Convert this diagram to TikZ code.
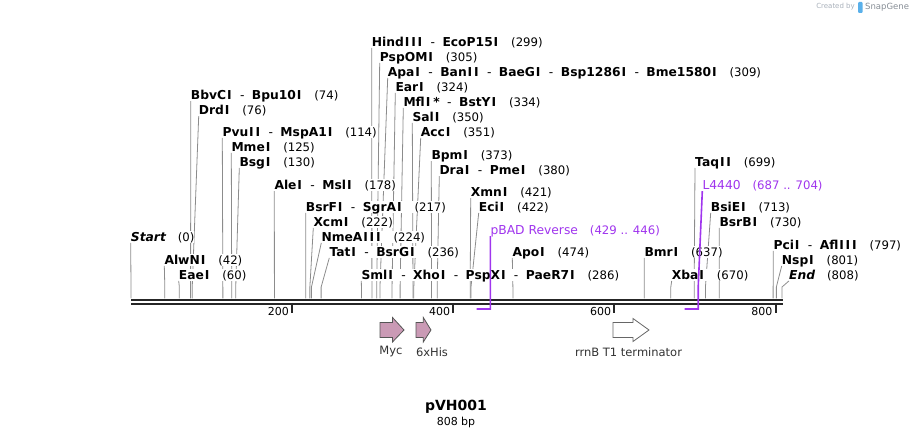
\documentclass[tikz,border=0pt]{standalone}
\usepackage{fontspec}
\setmainfont{DejaVu Sans}[ItalicFont={DejaVu Sans Oblique},BoldItalicFont={DejaVu Sans Bold Oblique}]
\usepackage{tikz}
\usetikzlibrary{calc}
\definecolor{mapInk}{HTML}{262626}
\definecolor{mapLine}{HTML}{8C8C8C}
\definecolor{mapPrimer}{HTML}{A035EE}
\definecolor{mapMyc}{HTML}{CA9AB5}
\definecolor{mapEdge}{HTML}{555555}
\definecolor{mapMuted}{HTML}{A8B0BA}
\definecolor{mapLogo}{HTML}{5AB0EA}
\pgfdeclarelayer{background}
\pgfsetlayers{background,main}
% a wider capital I, as in the map's typeface
\XeTeXinterchartokenstate=1
\newXeTeXintercharclass\enzIclass
\XeTeXcharclass`I=\enzIclass
\XeTeXinterchartoks 0 \enzIclass = {\kern0.9pt}
\XeTeXinterchartoks \enzIclass 0 = {\kern0.9pt}
\XeTeXinterchartoks \enzIclass \enzIclass = {\kern1.8pt}
\XeTeXinterchartoks \enzIclass 4095 = {\kern0.9pt}
\newcommand{\cutpos}[1]{\hspace{12pt}{\mdseries\fontsize{11.7}{13}\selectfont(#1)}}
\newcommand{\cutsep}{\hspace{7.5pt}{\mdseries-}\hspace{7.5pt}}
\tikzset{
  enz/.style={anchor=west, inner xsep=0pt, inner ysep=0pt, text height=10.5pt, text depth=1.5pt,
    fill=white, font=\fontsize{12.3}{14}\selectfont\bfseries, text=black},
  primlab/.style={enz, font=\fontsize{12.3}{14}\selectfont, text=mapPrimer},
  cutline/.style={draw=mapLine, line width=0.8pt},
  primline/.style={draw=mapPrimer, line width=1.6pt},
  barline/.style={draw=mapInk, line width=2.6pt},
  feat/.style={draw=mapEdge, line width=0.8pt, line join=miter},
  featlab/.style={font=\fontsize{11.5}{13}\selectfont, text=black!80},
}

\begin{document}
\begin{tikzpicture}[x=1pt,y=-1pt]
  \useasboundingbox (0,0) rectangle (914,438);
  % sites on the sequence
  \foreach \b in {0,42,60,74,76,114,125,130,178,217,222,224,236,286,299,305,309,324,334,350,351,373,380,421,422,474,637,670,699,713,730,797,801,808}
    \coordinate (s\b) at ({131+\b*0.8057},298.5);
  \foreach \b in {429,446,687,704}
    \coordinate (p\b) at ({131+\b*0.8057},309);

  % sequence line and scale
  \draw[barline] (131,300) -- (783,300);
  \draw[barline] (131,304) -- (783,304);
  \foreach \t in {200,400,600,800} {
    \draw[mapInk, line width=2pt] ({131+\t*0.8057},303) -- ++(0,10.5);
    \node[anchor=east, inner sep=0pt, font=\fontsize{11}{13}\selectfont] (tick\t) at ({131+\t*0.8057-3},311.5) {\t};
  }

  % enzyme labels
  \node[enz] (hind) at (371.7,41.7) {HindIII\cutsep EcoP15I\cutpos{299}};
  \node[enz] (pspom) at (379.7,56.7) {PspOMI\cutpos{305}};
  \node[enz] (apa) at (387.7,71.7) {ApaI\cutsep BanII\cutsep BaeGI\cutsep Bsp1286I\cutsep Bme1580I\cutpos{309}};
  \node[enz] (ear) at (395.3,86.7) {EarI\cutpos{324}};
  \node[enz] (mfl) at (403.3,101.7) {MflI\,*\cutsep BstYI\cutpos{334}};
  \node[enz] (sal) at (412.3,116.7) {SalI\cutpos{350}};
  \node[enz] (acc) at (420.7,131.7) {AccI\cutpos{351}};
  \node[enz] (bpm) at (431.3,155) {BpmI\cutpos{373}};
  \node[enz] (dra) at (439.3,170) {DraI\cutsep PmeI\cutpos{380}};
  \node[enz] (bbv) at (190.7,95) {BbvCI\cutsep Bpu10I\cutpos{74}};
  \node[enz] (drd) at (198.7,110) {DrdI\cutpos{76}};
  \node[enz] (pvu) at (222.3,131.7) {PvuII\cutsep MspA1I\cutpos{114}};
  \node[enz] (mme) at (231.3,146.7) {MmeI\cutpos{125}};
  \node[enz] (bsg) at (239.3,161.7) {BsgI\cutpos{130}};
  \node[enz] (ale) at (274.3,185) {AleI\cutsep MslI\cutpos{178}};
  \node[enz] (bsrf) at (305.7,206.7) {BsrFI\cutsep SgrAI\cutpos{217}};
  \node[enz] (xcm) at (313.3,221.7) {XcmI\cutpos{222}};
  \node[enz] (nme) at (321.3,236.7) {NmeAIII\cutpos{224}};
  \node[enz] (tat) at (329.3,251.7) {TatI\cutsep BsrGI\cutpos{236}};
  \node[enz] (sml) at (361.3,274.7) {SmlI\cutsep XhoI\cutsep PspXI\cutsep PaeR7I\cutpos{286}};
  \node[enz] (start) at (130.7,236.7) {{\itshape Start}\cutpos{0}};
  \node[enz] (alw) at (164.3,259.7) {AlwNI\cutpos{42}};
  \node[enz] (eae) at (178.7,274.7) {EaeI\cutpos{60}};
  \node[enz] (xmn) at (470.7,192) {XmnI\cutpos{421}};
  \node[enz] (eci) at (478.7,206.7) {EciI\cutpos{422}};
  \node[enz] (apo) at (512.3,251.7) {ApoI\cutpos{474}};
  \node[enz] (bmr) at (644.3,251.7) {BmrI\cutpos{637}};
  \node[enz] (xba) at (671.7,274.7) {XbaI\cutpos{670}};
  \node[enz] (taq) at (695,161.7) {TaqII\cutpos{699}};
  \node[enz] (bsie) at (710.7,206.7) {BsiEI\cutpos{713}};
  \node[enz] (bsrb) at (719.3,221.7) {BsrBI\cutpos{730}};
  \node[enz] (pci) at (773.3,244.7) {PciI\cutsep AflIII\cutpos{797}};
  \node[enz] (nsp) at (781.7,259.7) {NspI\cutpos{801}};
  \node[enz] (send) at (789,274.7) {{\itshape End}\cutpos{808}};

  \begin{pgfonlayer}{background}
    \foreach \l/\b in {start/0,alw/42,eae/60,bbv/74,drd/76,pvu/114,mme/125,bsg/130,ale/178,
        bsrf/217,xcm/222,nme/224,tat/236,sml/286,hind/299,pspom/305,apa/309,ear/324,mfl/334,
        sal/350,acc/351,bpm/373,dra/380,xmn/421,eci/422,apo/474,bmr/637,xba/670,taq/699,
        bsie/713,bsrb/730,pci/797,nsp/801,send/808}
      \draw[cutline] (\l.south west) -- ([yshift=11.5pt]s\b) -- (s\b);
  \end{pgfonlayer}

  % primers
  \node[primlab] (pbad) at (490.3,230) {pBAD Reverse\cutpos{429 .. 446}};
  \node[primlab] (l4440) at (702.3,185) {L4440\cutpos{687 .. 704}};
  \draw[primline] (pbad.south west) -- (p446) -- (p429);
  \draw[primline] (l4440.south west) -- ([yshift=22pt]p704) -- (p704) -- (p687);

  % features
  \draw[feat, fill=mapMyc] (380,322.5) -- (392.5,322.5) -- (392.5,317.5) -- (404,330) -- (392.5,342) -- (392.5,337.5) -- (380,337.5) -- cycle;
  \draw[feat, fill=mapMyc] (416,322.5) -- (423.3,322.5) -- (423.3,317.5) -- (431,330) -- (423.3,342) -- (423.3,337.5) -- (416,337.5) -- cycle;
  \draw[feat, draw=black!60, fill=white] (613,322.5) -- (633,322.5) -- (633,318.5) -- (649,330) -- (633,341.5) -- (633,337.5) -- (613,337.5) -- cycle;
  \node[featlab] (myc) at (391,352) {Myc};
  \node[featlab] (his) at (432,352) {6xHis};
  \node[featlab] (rrnb) at (628.5,352) {rrnB T1 terminator};

  % title
  \node[font=\fontsize{14}{16}\selectfont\bfseries] (title) at (456,407) {pVH001};
  \node[font=\fontsize{11}{13}\selectfont] (size) at (456,422) {808 bp};

  % credit
  \node[anchor=east, inner sep=0pt, font=\fontsize{7}{8}\selectfont, text=mapMuted] (made) at (855,7) {Created by};
  \fill[mapLogo, rounded corners=1pt] (858,2) rectangle (862.5,13);
  \node[anchor=west, inner sep=0pt, font=\fontsize{8.5}{10}\selectfont, text=mapMuted!80!black] (brand) at (865,7) {SnapGene};
\end{tikzpicture}
\end{document}
